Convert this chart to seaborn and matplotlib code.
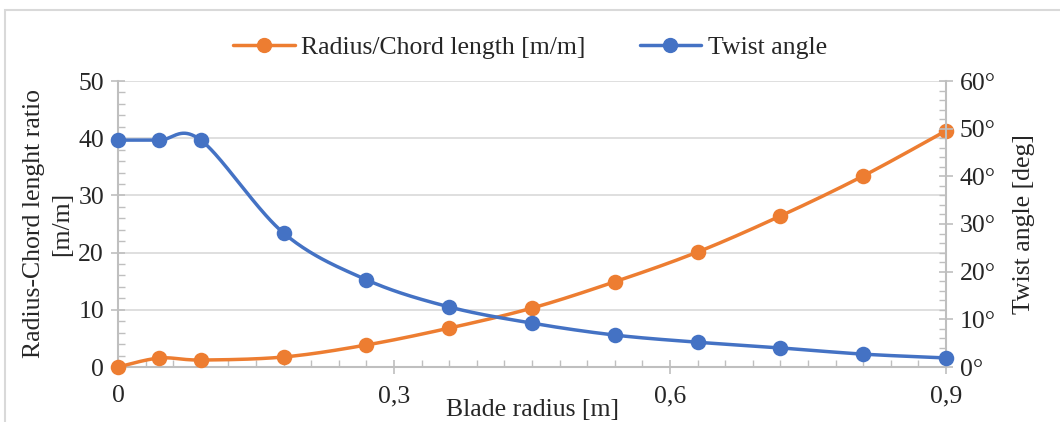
import numpy as np
import pandas as pd
import matplotlib
matplotlib.use("Agg")
import matplotlib.pyplot as plt
import seaborn as sns
from matplotlib.lines import Line2D
from matplotlib.ticker import MultipleLocator, FuncFormatter

# ---- data ----
blade_radius = [0, 0.045, 0.09, 0.18, 0.27, 0.36, 0.45, 0.54, 0.63, 0.72, 0.81, 0.9]
radius_chord = [0, 1.57, 1.22, 1.75, 3.85, 6.8, 10.3, 14.9, 20.1, 26.4, 33.4, 41.3]
twist_angle = [47.6, 47.6, 47.6, 28.1, 18.3, 12.6, 9.2, 6.7, 5.2, 4.0, 2.7, 1.9]
x_ticks = [0, 0.3, 0.6, 0.9]
x_tick_labels = ["0", "0,3", "0,6", "0,9"]
series_names = ["Radius/Chord length [m/m]", "Twist angle"]

ORANGE = "#ED7D31"
BLUE = "#4472C4"
GRID = "#d9d9d9"
SPINE = "#bfbfbf"
FS = 18.5


def smooth(xs, ys, n=40):
    """Excel-like smoothing: cubic Bezier segments with Catmull-Rom control points."""
    P = np.column_stack([xs, ys]).astype(float)
    Pe = np.vstack([P[0], P, P[-1]])
    out = []
    t = np.linspace(0, 1, n)[:, None]
    for i in range(len(P) - 1):
        p0, p1, p2, p3 = Pe[i], Pe[i + 1], Pe[i + 2], Pe[i + 3]
        b1 = p1 + (p2 - p0) / 6
        b2 = p2 - (p3 - p1) / 6
        seg = ((1 - t) ** 3) * p1 + 3 * ((1 - t) ** 2) * t * b1 + 3 * (1 - t) * t ** 2 * b2 + t ** 3 * p2
        out.append(seg if i == 0 else seg[1:])
    S = np.vstack(out)
    return S[:, 0], S[:, 1]


sns.set_theme(style="white")
plt.rcParams["font.family"] = ["Liberation Serif", "DejaVu Serif"]
plt.rcParams["font.size"] = FS

fig = plt.figure(figsize=(10.6, 4.22), dpi=100)
W, H = 1060, 422
ax = fig.add_axes([118 / W, 1 - 367 / H, (946 - 118) / W, (367 - 81) / H])
ax2 = ax.twinx()

df = pd.DataFrame({"x": blade_radius, "rc": radius_chord, "tw": twist_angle})

sx, sy = smooth(df["x"], df["rc"])
sns.lineplot(x=sx, y=sy, ax=ax, color=ORANGE, lw=2.5, sort=False, estimator=None, zorder=3)
sns.scatterplot(data=df, x="x", y="rc", ax=ax, color=ORANGE, s=125, edgecolor=ORANGE, linewidth=0, zorder=4, clip_on=False)

tx, ty = smooth(df["x"], df["tw"])
sns.lineplot(x=tx, y=ty, ax=ax2, color=BLUE, lw=2.5, sort=False, estimator=None, zorder=3)
sns.scatterplot(data=df, x="x", y="tw", ax=ax2, color=BLUE, s=125, edgecolor=BLUE, linewidth=0, zorder=4, clip_on=False)

ax.set_xlim(0, 0.9)
ax.set_ylim(0, 50)
ax2.set_ylim(0, 60)

ax.set_xticks(x_ticks)
ax.set_xticklabels(x_tick_labels)
ax.xaxis.set_minor_locator(MultipleLocator(0.03))
ax.yaxis.set_major_locator(MultipleLocator(10))
ax.yaxis.set_minor_locator(MultipleLocator(2))
ax2.yaxis.set_major_locator(MultipleLocator(10))
ax2.yaxis.set_minor_locator(MultipleLocator(2))
ax2.yaxis.set_major_formatter(FuncFormatter(lambda v, p: f"{v:.0f}°"))

ax.grid(axis="y", which="major", color=GRID, lw=1.2)
ax.grid(axis="x", visible=False)
ax2.grid(False)

for a in (ax, ax2):
    a.spines["top"].set_visible(False)
    for s in ("left", "right", "bottom"):
        a.spines[s].set_color(SPINE)
        a.spines[s].set_linewidth(1.5)
ax.spines["right"].set_visible(False)
ax2.spines["left"].set_visible(False)
ax2.spines["bottom"].set_visible(False)

ax.tick_params(axis="y", which="major", direction="inout", length=10, width=1.2, color=SPINE, pad=5, labelsize=FS, left=True)
ax.tick_params(axis="y", which="minor", direction="in", length=5, width=1.0, color=SPINE, left=True)
ax.tick_params(axis="x", which="major", direction="inout", length=10, width=1.2, color=SPINE, pad=8, labelsize=FS, bottom=True)
ax.tick_params(axis="x", which="minor", direction="in", length=5, width=1.0, color=SPINE, bottom=True)
ax2.tick_params(axis="y", which="major", direction="inout", length=10, width=1.2, color=SPINE, pad=5, labelsize=FS, right=True)
ax2.tick_params(axis="y", which="minor", direction="in", length=5, width=1.0, color=SPINE, right=True)

ax.set_xlabel("Blade radius [m]", fontsize=FS, labelpad=-6)
ax.set_ylabel("Radius-Chord lenght ratio\n[m/m]", fontsize=FS, labelpad=4, linespacing=1.35)
ax2.set_ylabel("Twist angle [deg]", fontsize=FS, labelpad=12)

handles = [
    Line2D([], [], color=ORANGE, lw=2.5, marker="o", markersize=10),
    Line2D([], [], color=BLUE, lw=2.5, marker="o", markersize=10),
]
fig.legend(handles, series_names, loc="center", bbox_to_anchor=(530 / W, 1 - 48 / H), ncol=2,
           frameon=False, fontsize=FS, handlelength=2.4, handletextpad=0.25, columnspacing=2.1)

fig.patches.append(plt.Rectangle((5 / W, -0.05), 1.1, 1 - 10 / H + 0.05, transform=fig.transFigure,
                                 fill=False, edgecolor="#d9d9d9", lw=1.5, zorder=0))

fig.savefig("out.png", dpi=100)
